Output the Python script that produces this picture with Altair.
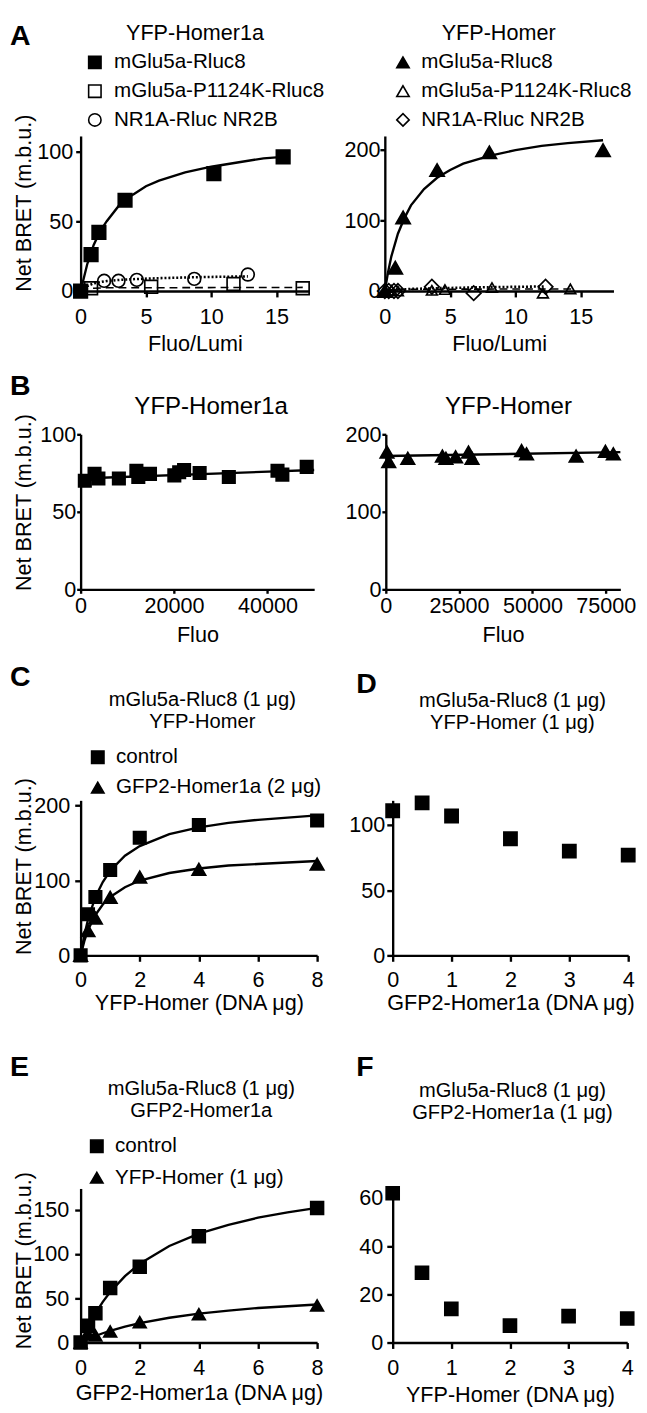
import altair as alt
import pandas as pd

FONT = "Liberation Sans"
MU = "\u03bc"

# ---------------- Panel A, left: YFP-Homer1a ----------------
A1_NAMES = ["mGlu5a-Rluc8", "mGlu5a-P1124K-Rluc8", "NR1A-Rluc NR2B"]
A1_WT_X = [0, 0.8, 1.4, 3.4, 10.2, 15.5]
A1_WT_Y = [0, 26, 42, 65, 84, 96]
A1_MUT_X = [0.8, 5.4, 11.7, 17.0]
A1_MUT_Y = [2, 3, 5, 2]
A1_NR_X = [1.8, 2.9, 4.3, 8.7, 12.8]
A1_NR_Y = [7.3, 7.3, 8.0, 8.7, 11.8]
A1_WT_FIT_X = [0, 0.5, 1, 1.5, 2, 3, 4, 5, 6, 8, 10, 12, 14, 15.5]
A1_WT_FIT_Y = [0, 19, 33, 43, 50, 62, 69, 75, 79, 85, 89, 92, 95, 96]
A1_MUT_FIT_X = [0, 0.5, 1, 2, 17]
A1_MUT_FIT_Y = [0, 1.5, 2, 2.3, 2.6]
A1_NR_FIT_X = [0, 0.5, 1, 2, 3, 4, 6, 8, 10, 12.8]
A1_NR_FIT_Y = [0, 3.5, 5.5, 7.2, 8, 8.5, 9.2, 9.7, 10.1, 10.5]

# ---------------- Panel A, right: YFP-Homer ----------------
A2_NAMES = ["mGlu5a-Rluc8", "mGlu5a-P1124K-Rluc8", "NR1A-Rluc NR2B"]
A2_WT_X = [0, 0.8, 1.4, 4.0, 8.0, 16.7]
A2_WT_Y = [0, 33, 104, 171, 196, 199]
A2_MUT_X = [0, 0.5, 1.0, 3.6, 4.6, 8.2, 12.1, 14.2]
A2_MUT_Y = [0, 1, 0, 1, 2, 5, -3, 3]
A2_NR_X = [0, 0.3, 0.7, 1.0, 3.6, 6.8, 12.3]
A2_NR_Y = [0, 0, 0, 0, 6, -3, 6]
A2_WT_FIT_X = [0, 0.25, 0.5, 1, 1.5, 2, 3, 4, 5, 6, 8, 10, 12, 14, 16.7]
A2_WT_FIT_Y = [0, 27, 49, 81, 103, 121, 144, 160, 171, 180, 191, 199, 205, 209, 213]
A2_MUT_FIT_X = [0, 0.5, 1, 2, 14.5]
A2_MUT_FIT_Y = [0, 1.5, 2, 2.5, 3]
A2_NR_FIT_X = [0, 1, 2, 4, 8, 12.3]
A2_NR_FIT_Y = [0, 2, 3, 4, 5.5, 6.5]

# ---------------- Panel B ----------------
B1_X = [900, 2980, 3810, 8190, 11940, 12350, 14850, 20060, 21100, 22150, 25480, 31730, 42150, 43190, 48400]
B1_Y = [70, 74.5, 71.5, 71.5, 76.5, 72.5, 74.5, 73.5, 75.5, 77, 75, 72.5, 76.5, 74, 79]
B1_FIT_X = [0, 50000]
B1_FIT_Y = [71.5, 77]
B2_X = [400, 1000, 7500, 19300, 20500, 23800, 28200, 29400, 46300, 48000, 64900, 74900, 77600]
B2_Y = [177, 165, 169, 172, 169, 171, 177, 169, 179, 175, 172, 178, 175]
B2_FIT_X = [0, 80000]
B2_FIT_Y = [172, 177]

# ---------------- Panel C ----------------
C_NAMES = ["control", "GFP2-Homer1a (2 " + MU + "g)"]
C_X = [0, 0.25, 0.5, 1, 2, 4, 8]
C_CTRL = [0, 55, 78, 114, 157, 174, 180]
C_TRI = [0, 33, 50, 77.5, 104.6, 115, 122]
C_FIT_X = [0, 0.125, 0.25, 0.5, 0.75, 1, 1.5, 2, 3, 4, 5, 6, 7, 8]
C_FIT_CTRL = [0, 27, 48, 78, 98, 113, 133, 146, 162, 171, 177, 181, 184, 187]
C_FIT_TRI = [0, 19, 34, 54, 68, 78, 91, 100, 110, 116, 120, 122, 124, 126]

# ---------------- Panel D ----------------
D_X = [0, 0.5, 1, 2, 3, 4]
D_Y = [111, 117, 107, 89.5, 80, 77]

# ---------------- Panel E ----------------
E_NAMES = ["control", "YFP-Homer (1 " + MU + "g)"]
E_X = [0, 0.25, 0.5, 1, 2, 4, 8]
E_CTRL = [0, 19, 33, 61.5, 85.5, 120, 152]
E_TRI = [0, 9.6, 8, 12.6, 23, 32, 42]
E_FIT_X = [0, 0.125, 0.25, 0.5, 0.75, 1, 1.5, 2, 3, 4, 5, 6, 7, 8]
E_FIT_CTRL = [0, 9.5, 18, 33, 46, 57, 75, 89, 109, 123, 133, 141, 147, 152]
E_FIT_TRI = [0, 2, 4, 7.4, 10.5, 13.3, 18, 22, 28, 32.6, 36, 39, 41, 43]

# ---------------- Panel F ----------------
F_X = [0, 0.5, 1, 2, 3, 4]
F_Y = [62, 29, 14, 7, 11, 10]

YTITLE = "Net BRET (m.b.u.)"
LETTER_X = -72
YTITLE_X = -58
FIT_W = 2.4


def axis_x(vals, title, tick, pad, ty, fmt=None):
    kw = dict(values=vals, title=title, tickSize=tick, labelPadding=pad, titleY=ty,
              titleBaseline="middle", labelFlush=False, labelOverlap=False)
    if fmt:
        kw["format"] = fmt
    return alt.Axis(**kw)


def axis_y(vals, tick, pad, title=None, ty=0):
    kw = dict(values=vals, tickSize=tick, labelPadding=pad, labelFlush=False, labelOverlap=False)
    if title:
        kw.update(title=title, titleX=YTITLE_X, titleY=ty, titleBaseline="middle",
                  titleAngle=270, titleAlign="center")
    else:
        kw["title"] = None
    return alt.Axis(**kw)


def legend(lx, ly, row_pad, label_off):
    return alt.Legend(orient="none", legendX=lx, legendY=ly, title=None,
                      labelFontSize=21, labelFont=FONT, labelColor="black",
                      symbolSize=160, symbolStrokeColor="black", symbolStrokeWidth=1.6,
                      symbolOpacity=1, rowPadding=row_pad, labelOffset=label_off,
                      padding=0, labelLimit=600)


def panel(w, h, xdom, ydom, xaxis, yaxis, names, shapes, fills, lines, points, texts, leg=None):
    X = alt.X("x:Q", scale=alt.Scale(domain=xdom, nice=False, zero=False), axis=xaxis)
    Y = alt.Y("y:Q", scale=alt.Scale(domain=ydom, nice=False, zero=False), axis=yaxis)
    shape_scale = alt.Scale(domain=names, range=shapes)
    fill_scale = alt.Scale(domain=names, range=fills)
    stroke_scale = alt.Scale(domain=names, range=["black"] * len(names))
    layers = []
    for xs, ys, dash, width in lines:
        df = pd.DataFrame({"x": xs, "y": ys})
        kw = dict(color="black", strokeWidth=width)
        if dash:
            kw["strokeDash"] = dash
        layers.append(alt.Chart(df).mark_line(**kw).encode(x=X, y=Y))
    for name, xs, ys, size in points:
        df = pd.DataFrame({"x": xs, "y": ys, "s": [name] * len(xs)})
        layers.append(
            alt.Chart(df).mark_point(opacity=1, strokeWidth=1.7, size=size).encode(
                x=X, y=Y,
                shape=alt.Shape("s:N", scale=shape_scale, legend=leg),
                fill=alt.Fill("s:N", scale=fill_scale, legend=leg),
                stroke=alt.Stroke("s:N", scale=stroke_scale, legend=leg),
            )
        )
    for txt, tx, ty, fs, bold, align in texts:
        df = pd.DataFrame({"t": [txt]})
        layers.append(
            alt.Chart(df).mark_text(font=FONT, fontSize=fs, fontWeight="bold" if bold else "normal",
                                    align=align, baseline="alphabetic", lineBreak="\n",
                                    lineHeight=22.5, color="black")
            .encode(x=alt.value(tx), y=alt.value(ty), text="t:N")
        )
    return alt.layer(*layers).properties(width=w, height=h)


RES = dict(x="independent", y="independent", shape="independent", fill="independent",
           stroke="independent")

# ---- Row A ----
pA1 = panel(
    233, 158, [0, 17.5], [0, 111],
    axis_x([0, 5, 10, 15], "Fluo/Lumi", 6, 10, 54),
    axis_y([0, 50, 100], 5, 3, YTITLE, 68),
    A1_NAMES, ["square", "square", "circle"], ["black", "transparent", "transparent"],
    [(A1_WT_FIT_X, A1_WT_FIT_Y, None, FIT_W),
     (A1_MUT_FIT_X, A1_MUT_FIT_Y, [8, 5], 1.6),
     (A1_NR_FIT_X, A1_NR_FIT_Y, [2, 2], 2.6)],
    [(A1_NAMES[1], A1_MUT_X, A1_MUT_Y, 170),
     (A1_NAMES[2], A1_NR_X, A1_NR_Y, 170),
     (A1_NAMES[0], A1_WT_X, A1_WT_Y, 190)],
    [("A", LETTER_X, -93, 29, True, "left"),
     ("YFP-Homer1a", 116.5, -98, 22, False, "center")],
    legend(4, -85.5, 7.3, 9),
)
pA2 = panel(
    233, 158, [0, 17.5], [0, 219],
    axis_x([0, 5, 10, 15], "Fluo/Lumi", 6, 10, 54),
    axis_y([0, 100, 200], 5, 0),
    A2_NAMES, ["triangle-up", "triangle-up", "diamond"], ["black", "transparent", "transparent"],
    [(A2_WT_FIT_X, A2_WT_FIT_Y, None, FIT_W),
     (A2_MUT_FIT_X, A2_MUT_FIT_Y, [8, 5], 1.6),
     (A2_NR_FIT_X, A2_NR_FIT_Y, [2, 2], 2.6)],
    [(A2_NAMES[1], A2_MUT_X, A2_MUT_Y, 120),
     (A2_NAMES[2], A2_NR_X, A2_NR_Y, 220),
     (A2_NAMES[0], A2_WT_X, A2_WT_Y, 210)],
    [("YFP-Homer", 116, -98, 22, False, "center")],
    legend(8, -85.5, 7.3, 8),
)
rowA = alt.hconcat(pA1, pA2, spacing=77, bounds="flush").resolve_scale(**RES)

# ---- Row B ----
pB1 = panel(
    238, 158, [0, 50000], [0, 100],
    axis_x([0, 20000, 40000], "Fluo", 4, 3, 46, "d"),
    axis_y([0, 50, 100], 4, 1, YTITLE, 69),
    ["B1"], ["square"], ["black"],
    [(B1_FIT_X, B1_FIT_Y, None, FIT_W)],
    [("B1", B1_X, B1_Y, 160)],
    [("B", LETTER_X, -40, 29, True, "left"),
     ("YFP-Homer1a", 133, -21, 24.5, False, "center")],
)
pB2 = panel(
    239, 158, [0, 80000], [0, 200],
    axis_x([0, 25000, 50000, 75000], "Fluo", 4, 3, 46, "d"),
    axis_y([0, 100, 200], 4, 1),
    ["B2"], ["triangle-up"], ["black"],
    [(B2_FIT_X, B2_FIT_Y, None, FIT_W)],
    [("B2", B2_X, B2_Y, 190)],
    [("YFP-Homer", 125, -21, 24.5, False, "center")],
)
rowB = alt.hconcat(pB1, pB2, spacing=73, bounds="flush").resolve_scale(**RES)

# ---- Row C/D ----
pC = panel(
    241, 158, [0, 8], [0, 207],
    axis_x([0, 2, 4, 6, 8], "YFP-Homer (DNA " + MU + "g)", 6, 9, 48),
    axis_y([0, 100, 200], 6, 5, YTITLE, 67),
    C_NAMES, ["square", "triangle-up"], ["black", "black"],
    [(C_FIT_X, C_FIT_CTRL, None, FIT_W), (C_FIT_X, C_FIT_TRI, None, FIT_W)],
    [(C_NAMES[1], C_X, C_TRI, 190), (C_NAMES[0], C_X, C_CTRL, 160)],
    [("C", LETTER_X, -117, 29, True, "left"),
     ("mGlu5a-Rluc8 (1 " + MU + "g)\nYFP-Homer", 124, -96.5, 20.5, False, "center")],
    legend(7, -54.5, 9, 8),
)
pD = panel(
    240, 158, [0, 4], [0, 119],
    axis_x([0, 1, 2, 3, 4], "GFP2-Homer1a (DNA " + MU + "g)", 6, 9, 48),
    axis_y([0, 50, 100], 6, 2),
    ["D"], ["square"], ["black"],
    [],
    [("D", D_X, D_Y, 180)],
    [("D", -37, -109, 29, True, "left"),
     ("mGlu5a-Rluc8 (1 " + MU + "g)\nYFP-Homer (1 " + MU + "g)", 122, -95.5, 20.5, False, "center")],
)
rowC = alt.hconcat(pC, pD, spacing=77, bounds="flush").resolve_scale(**RES)

# ---- Row E/F ----
pE = panel(
    241, 157, [0, 8], [0, 174],
    axis_x([0, 2, 4, 6, 8], "GFP2-Homer1a (DNA " + MU + "g)", 6, 10, 51),
    axis_y([0, 50, 100, 150], 6, 6, YTITLE, 73),
    E_NAMES, ["square", "triangle-up"], ["black", "black"],
    [(E_FIT_X, E_FIT_CTRL, None, FIT_W), (E_FIT_X, E_FIT_TRI, None, FIT_W)],
    [(E_NAMES[1], E_X, E_TRI, 170), (E_NAMES[0], E_X, E_CTRL, 170)],
    [("E", LETTER_X, -115, 29, True, "left"),
     ("mGlu5a-Rluc8 (1 " + MU + "g)\nGFP2-Homer1a", 123, -95, 20.5, False, "center")],
    legend(6, -53.5, 10, 8),
)
pF = panel(
    239, 157, [0, 4], [0, 64],
    axis_x([0, 1, 2, 3, 4], "YFP-Homer (DNA " + MU + "g)", 6, 10, 53),
    axis_y([0, 20, 40, 60], 6, 4),
    ["F"], ["square"], ["black"],
    [],
    [("F", F_X, F_Y, 175)],
    [("F", -37, -115, 29, True, "left"),
     ("mGlu5a-Rluc8 (1 " + MU + "g)\nGFP2-Homer1a (1 " + MU + "g)", 122, -93.5, 20.5, False, "center")],
)
rowE = alt.hconcat(pE, pF, spacing=77, bounds="flush").resolve_scale(**RES)

top2 = alt.vconcat(rowA, rowB, spacing=18).resolve_scale(**RES)
top3 = alt.vconcat(top2, rowC, spacing=18).resolve_scale(**RES)
chart = (
    alt.vconcat(top3, rowE, spacing=40.5)
    .resolve_scale(**RES)
    .properties(padding={"left": 2, "top": 1, "right": 0, "bottom": 0})
    .configure(font=FONT)
    .configure_view(stroke=None)
    .configure_axis(domainColor="black", domainWidth=2.4, tickColor="black", tickWidth=2.4,
                    labelColor="black", titleColor="black", labelFont=FONT, titleFont=FONT,
                    labelFontSize=22, titleFontSize=22, titleFontWeight="normal", grid=False)
)

chart.save("out.html", embed_options={"renderer": "svg", "actions": False})
